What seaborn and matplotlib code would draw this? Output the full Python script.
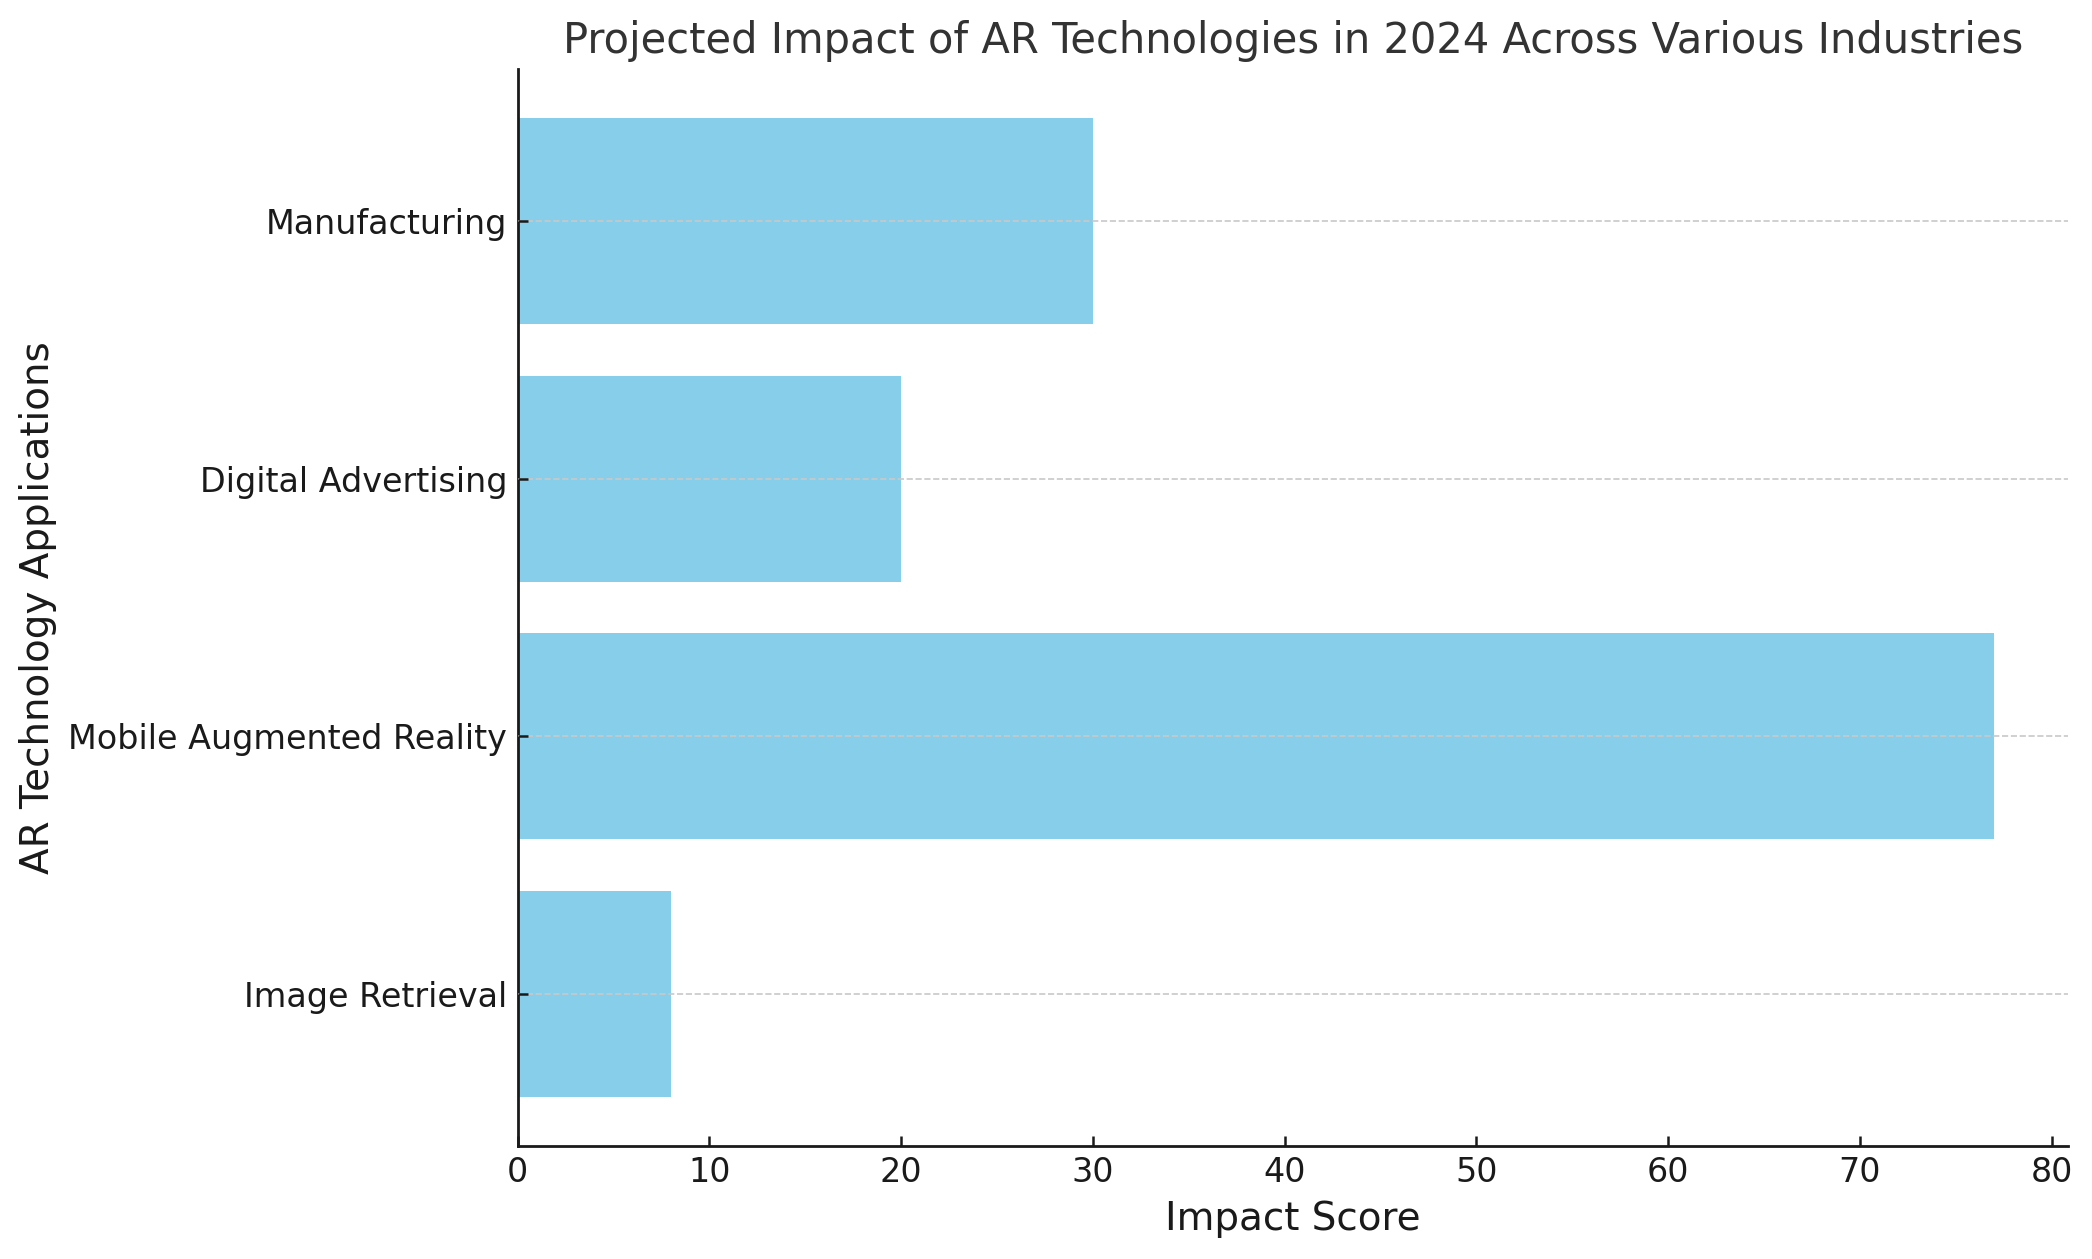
import matplotlib
matplotlib.use("Agg")
import matplotlib.pyplot as plt
import seaborn as sns
import pandas as pd

categories = ["Manufacturing", "Digital Advertising", "Mobile Augmented Reality", "Image Retrieval"]
impact_scores = [30, 20, 77, 8]
x_ticks = [0, 10, 20, 30, 40, 50, 60, 70, 80]

df = pd.DataFrame({"Application": categories, "Impact": impact_scores})

sns.set_theme(style="ticks")
plt.rcParams['font.family'] = ['DejaVu Sans']

fig = plt.figure(figsize=(10.46, 6.295), dpi=200)
ax = fig.add_axes([0.2474, 0.09, 0.7411, 0.855])

sns.barplot(data=df, y="Application", x="Impact", order=categories, orient="h",
            color="skyblue", saturation=1, width=0.8, linewidth=0, ax=ax)

ax.set_ylim(3.59, -0.59)
ax.set_xlim(0, 80.85)
ax.set_xticks(x_ticks)
ax.set_axisbelow(False)
ax.grid(axis="y", linestyle="--", color="#c8c8c8", linewidth=0.6)
ax.grid(axis="x", visible=False)
for s in ["top", "right"]:
    ax.spines[s].set_visible(False)
for s in ["left", "bottom"]:
    ax.spines[s].set_color("#1a1a1a")
    ax.spines[s].set_linewidth(1.0)
ax.tick_params(axis="both", labelsize=12, colors="#1a1a1a", length=3.5, width=0.9,
               direction="in", pad=3.8)

ax.set_title("Projected Impact of AR Technologies in 2024 Across Various Industries",
             fontsize=15, color="#333333", pad=6)
ax.set_xlabel("Impact Score", fontsize=14, color="#1a1a1a")
ax.set_ylabel("AR Technology Applications", fontsize=14, color="#1a1a1a")

fig.savefig("out.png", dpi=200)
